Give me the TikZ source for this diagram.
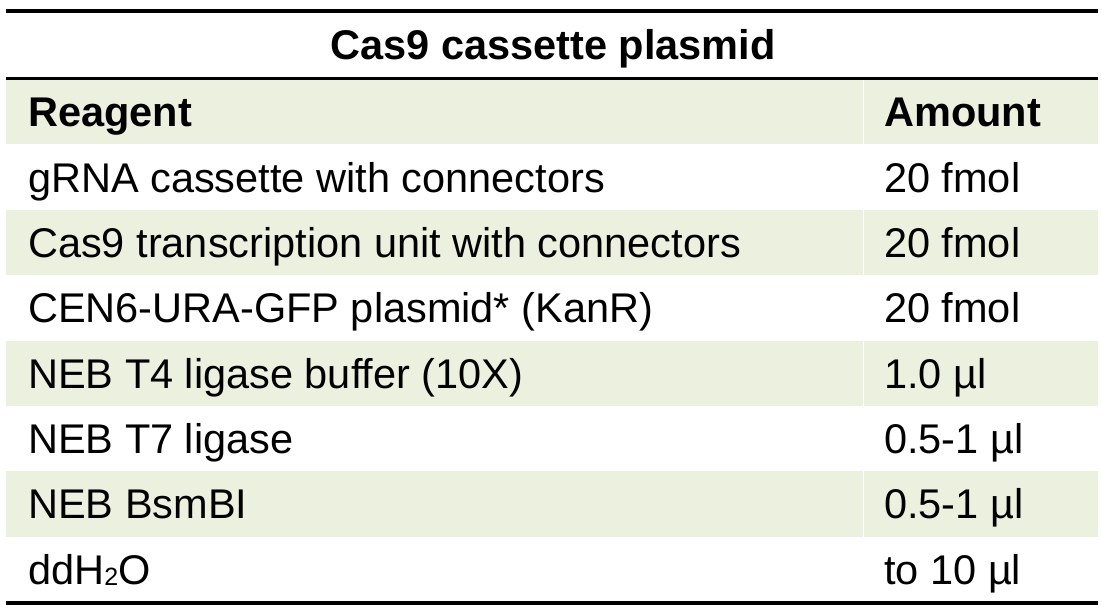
\documentclass[tikz,border=0pt]{standalone}
\usepackage{fontspec}
\setmainfont{Liberation Sans}
\definecolor{rowgreen}{HTML}{EBF1DE}
\newcommand{\subtwo}{\raisebox{-1.5pt}{\fontsize{25}{25}\selectfont 2}}
\begin{document}
\begin{tikzpicture}[x=1pt,y=-1pt,
  cell/.style={anchor=base west,inner sep=0pt,font=\fontsize{41.5}{49}\selectfont},
  headcell/.style={cell,font=\fontsize{41.5}{49}\selectfont\bfseries},
  rule/.style={line width=3.5pt,black},
  band/.style={fill=rowgreen,draw=none}]
\useasboundingbox (0,0) rectangle (1102,609);
% green bands (with thin white gap between columns)
\foreach \i in {0,2,4,6}{
  \pgfmathsetmacro{\top}{79+65.375*\i}
  \pgfmathsetmacro{\bot}{79+65.375*(\i+1)}
  \fill[band] (6,\top) rectangle (862.5,\bot);
  \fill[band] (863.8,\top) rectangle (1098,\bot);
}
% rules
\draw[rule] (6,11) -- (1098,11);
\draw[line width=3pt] (6,79) -- (1098,79);
\draw[rule] (6,603) -- (1098,603);
% title
\node[headcell,anchor=base] (title) at (553,60) {Cas9 cassette plasmid};
% header
\node[headcell] (hreag) at (28,127) {Reagent};
\node[headcell] (hamt) at (884,127) {Amount};
% rows
\foreach \i/\r/\a in {
  1/gRNA cassette with connectors/20 fmol,
  2/Cas9 transcription unit with connectors/20 fmol,
  3/CEN6-URA-GFP plasmid* (KanR)/20 fmol,
  4/NEB T4 ligase buffer (10X)/1.0 µl,
  5/NEB T7 ligase/0.5-1 µl,
  6/NEB BsmBI/0.5-1 µl,
  7/ddH\subtwo O/to 10 µl}{
  \pgfmathsetmacro{\yb}{79+65.375*\i+32.7+15}
  \node[cell] (r\i) at (28,\yb) {\r};
  \node[cell] (a\i) at (884,\yb) {\a};
}
\end{tikzpicture}
\end{document}
